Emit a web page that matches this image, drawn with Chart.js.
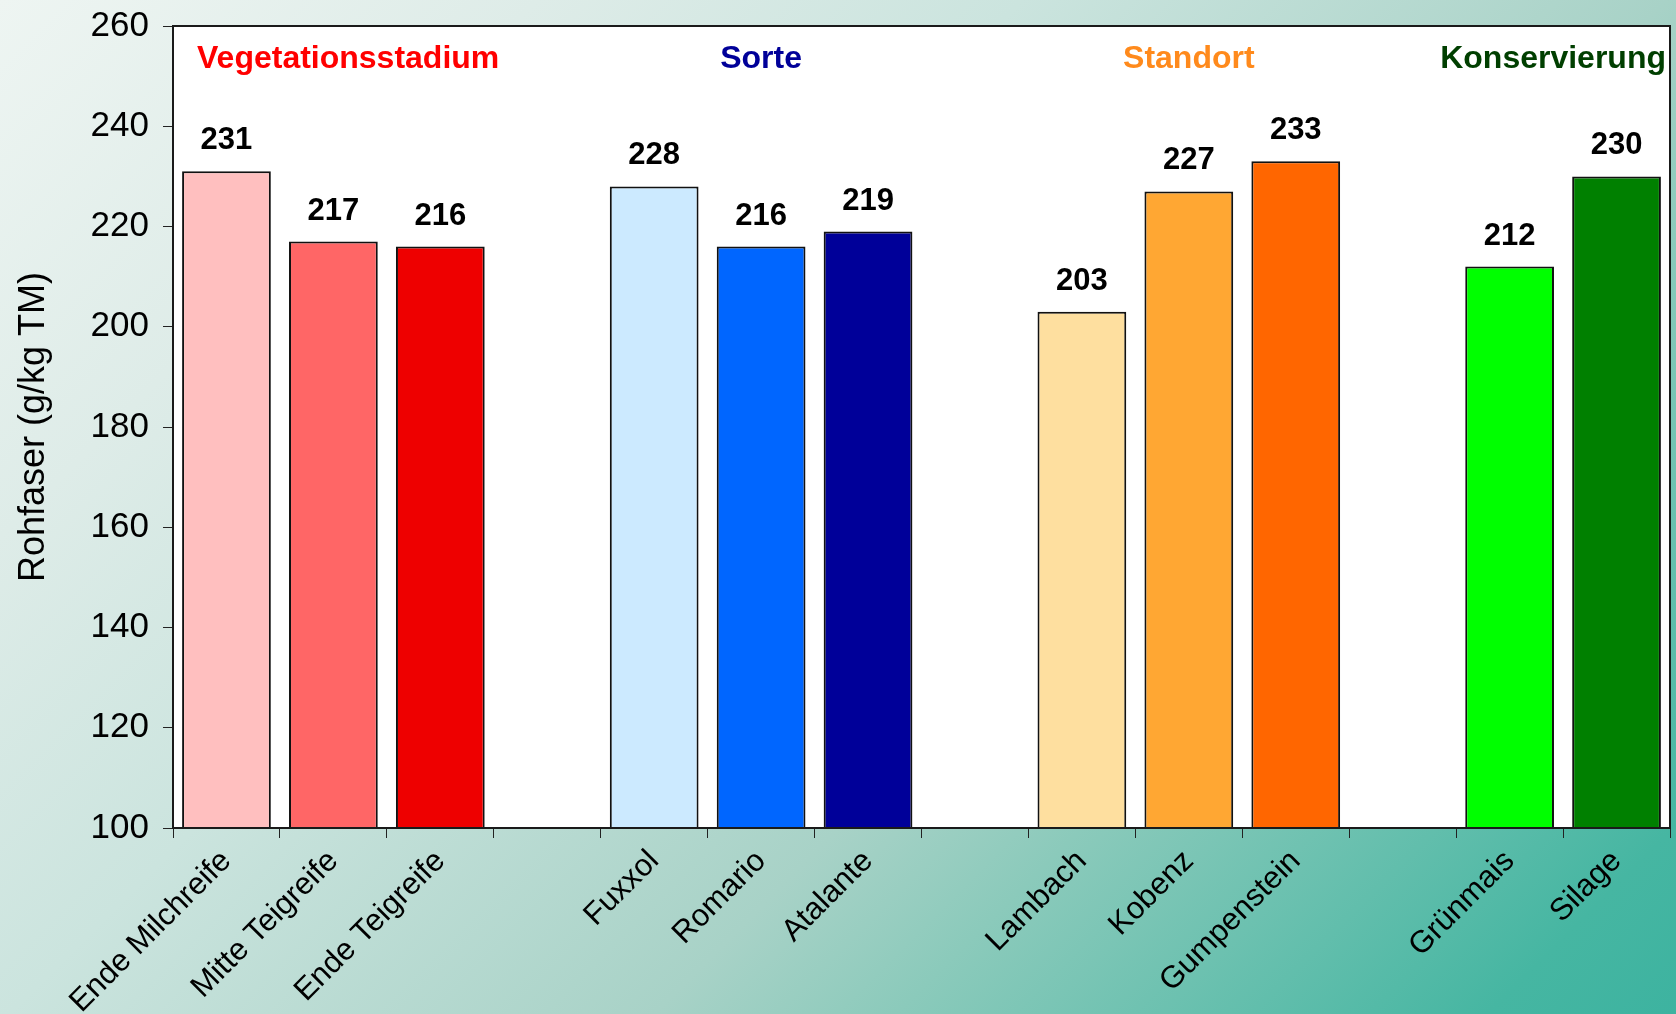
<!DOCTYPE html>
<html lang="de">
<head>
<meta charset="utf-8">
<title>Rohfaser</title>
<script src="https://cdn.jsdelivr.net/npm/chart.js@4/dist/chart.umd.min.js"></script>
<style>
    html, body {
        margin: 0;
        padding: 0;
        width: 1676px;
        height: 1014px;
        overflow: hidden;
    }
    body {
        background: linear-gradient(135deg, #eef5f2 0%, #deece8 20%, #cbe4de 38%, #a8d2c7 62%, #8bcabb 71%, #46b6a2 93%, #3db3a0 100%);
    }
    canvas {
        display: block;
    }
</style>
</head>
<body>
<canvas id="rohfaserChart" width="1676" height="1014"></canvas>
<script>
// Kategorien (leere Einträge trennen die Gruppen)
const categories = [
    'Ende Milchreife', 'Mitte Teigreife', 'Ende Teigreife', '',
    'Fuxxol', 'Romario', 'Atalante', '',
    'Lambach', 'Kobenz', 'Gumpenstein', '',
    'Grünmais', 'Silage'
];

// Rohfaser in g/kg TM
const rohfaser = [
    231, 217, 216, null,
    228, 216, 219, null,
    203, 227, 233, null,
    212, 230
];

const barColors = [
    '#ffbfbf', '#ff6666', '#ee0000', 'transparent',
    '#cceaff', '#0066ff', '#000099', 'transparent',
    '#fedf9f', '#ffa733', '#ff6600', 'transparent',
    '#00ff00', '#008000'
];

// Gruppenüberschriften: Text, Farbe, erster und letzter Index
const groupNames = ['Vegetationsstadium', 'Sorte', 'Standort', 'Konservierung'];
const groupColors = ['#ff0000', '#000099', '#ff8a1c', '#003f00'];
const groupRanges = [[0, 2], [4, 6], [8, 10], [12, 13]];

const yTicks = [100, 120, 140, 160, 180, 200, 220, 240, 260];

const FONT = 'Arial, "Liberation Sans", sans-serif';

// weißer Hintergrund + Rahmen der Zeichenfläche
const plotFrame = {
    id: 'plotFrame',
    beforeDraw(chart) {
        const { ctx, chartArea: a } = chart;
        ctx.save();
        ctx.fillStyle = '#ffffff';
        ctx.fillRect(a.left, a.top, a.right - a.left, a.bottom - a.top);
        ctx.restore();
    },
    afterDraw(chart) {
        const { ctx, chartArea: a } = chart;
        ctx.save();
        ctx.strokeStyle = '#1a1a1a';
        ctx.lineWidth = 2;
        ctx.strokeRect(a.left, a.top, a.right - a.left, a.bottom - a.top);
        ctx.restore();
    }
};

// Werte über den Balken und Gruppenüberschriften
const labelsPlugin = {
    id: 'labelsPlugin',
    afterDatasetsDraw(chart) {
        const { ctx, chartArea: a } = chart;
        const xScale = chart.scales.x;
        const meta = chart.getDatasetMeta(0);
        ctx.save();
        ctx.font = 'bold 31px ' + FONT;
        ctx.fillStyle = '#000';
        ctx.textAlign = 'center';
        ctx.textBaseline = 'alphabetic';
        meta.data.forEach((bar, i) => {
            if (rohfaser[i] == null) return;
            ctx.fillText(String(rohfaser[i]), bar.x, bar.y - 22);
        });

        ctx.font = 'bold 32px ' + FONT;
        groupNames.forEach((name, g) => {
            const [first, last] = groupRanges[g];
            let cx = (xScale.getPixelForValue(first) + xScale.getPixelForValue(last)) / 2;
            const half = ctx.measureText(name).width / 2;
            // Überschriften innerhalb des Rahmens halten
            cx = Math.min(cx, a.right - 4 - half);
            cx = Math.max(cx, a.left + 24 + half);
            ctx.fillStyle = groupColors[g];
            ctx.fillText(name, cx, a.top + 42);
        });
        ctx.restore();
    }
};

const ctx = document.getElementById('rohfaserChart').getContext('2d');
const rohfaserChart = new Chart(ctx, {
    type: 'bar',
    data: {
        labels: categories,
        datasets: [{
            data: rohfaser,
            backgroundColor: barColors,
            borderColor: '#111',
            borderWidth: 2,
            borderSkipped: false,
            barPercentage: 0.83,
            categoryPercentage: 1
        }]
    },
    options: {
        responsive: false,
        animation: false,
        devicePixelRatio: 1,
        layout: {
            padding: { top: 26, right: 6, left: 12, bottom: 0 }
        },
        plugins: {
            legend: { display: false },
            tooltip: { enabled: false }
        },
        scales: {
            x: {
                grid: {
                    offset: true,
                    drawOnChartArea: false,
                    drawTicks: true,
                    tickLength: 10,
                    color: '#222'
                },
                border: { display: false },
                ticks: {
                    color: '#000',
                    font: { family: FONT, size: 31 },
                    minRotation: 45,
                    maxRotation: 45,
                    autoSkip: false,
                    padding: 5
                },
                afterFit(scale) {
                    scale.height = 186;
                    scale.paddingLeft = 0;
                    scale.paddingRight = 0;
                }
            },
            y: {
                min: 100,
                max: 260,
                afterBuildTicks(scale) {
                    scale.ticks = yTicks.map(v => ({ value: v }));
                },
                grid: {
                    drawOnChartArea: false,
                    drawTicks: true,
                    tickLength: 10,
                    color: '#222'
                },
                border: { display: false },
                ticks: {
                    color: '#000',
                    font: { family: FONT, size: 35 },
                    padding: 14
                },
                title: {
                    display: true,
                    text: 'Rohfaser (g/kg TM)',
                    color: '#000',
                    font: { family: FONT, size: 36 },
                    padding: { top: 0, bottom: 0 }
                },
                afterFit(scale) {
                    scale.width = 161;
                    scale.paddingTop = 0;
                    scale.paddingBottom = 0;
                }
            }
        }
    },
    plugins: [plotFrame, labelsPlugin]
});
</script>
</body>
</html>
